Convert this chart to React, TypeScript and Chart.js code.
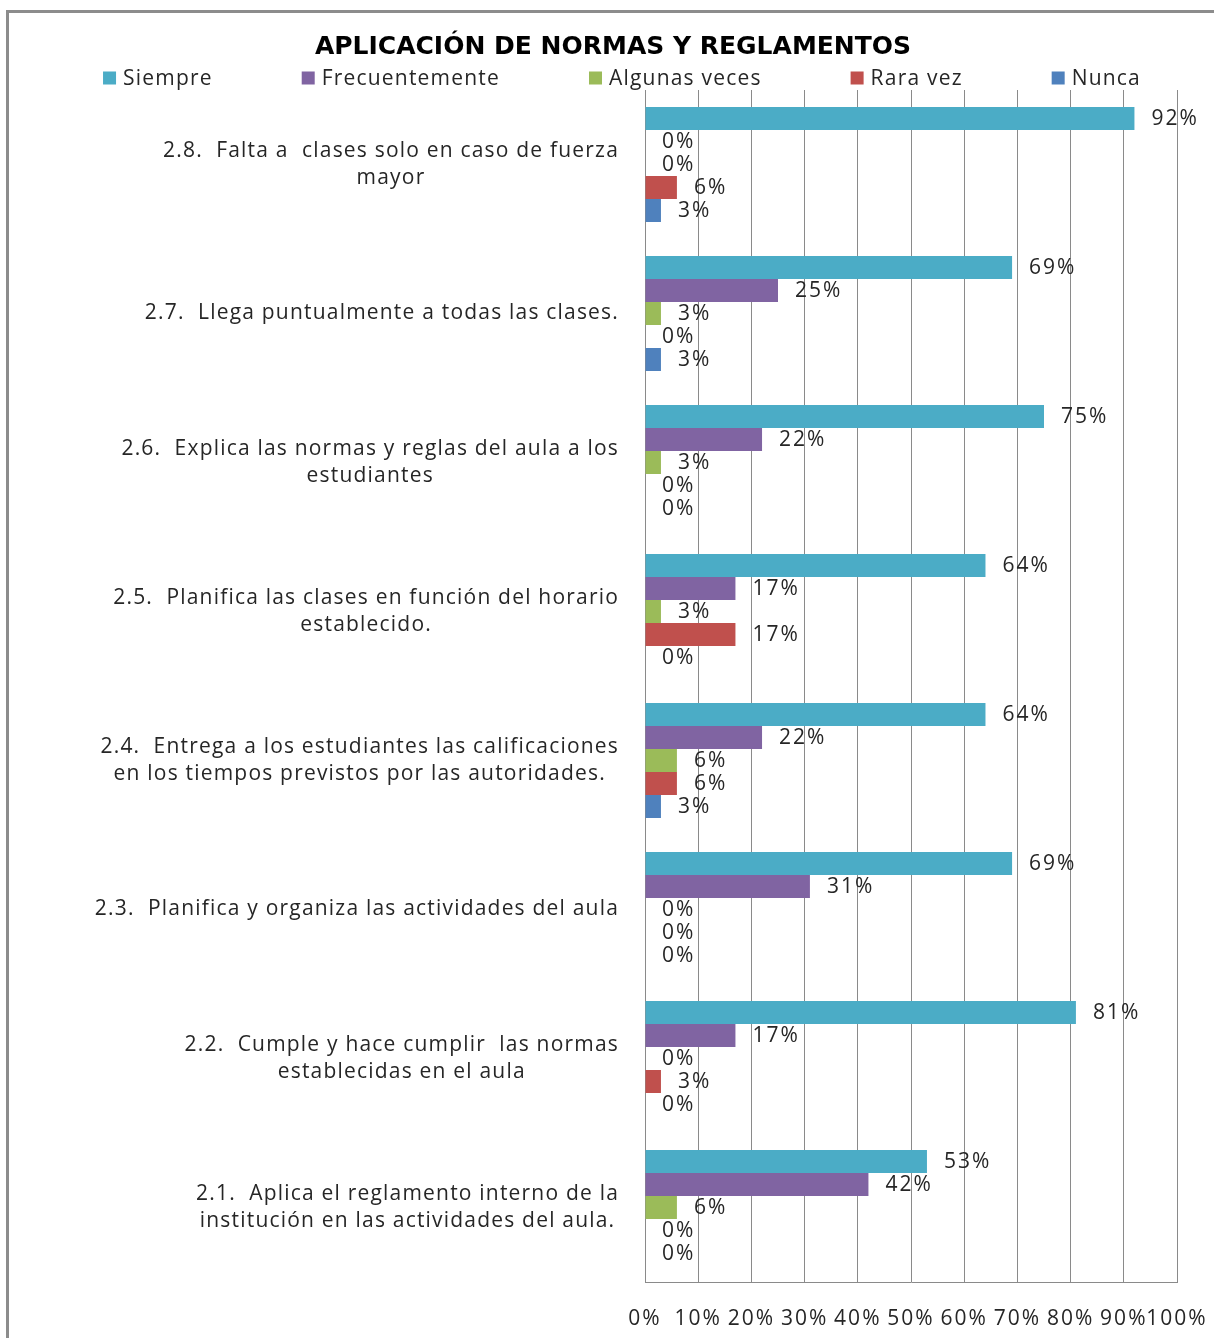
import React, { useEffect, useRef } from "react";
import { Chart, registerables } from "chart.js";

Chart.register(...registerables);

const categories: string[][] = [
  ["2.8.  Falta a  clases solo en caso de fuerza", "mayor"],
  ["2.7.  Llega puntualmente a todas las clases."],
  ["2.6.  Explica las normas y reglas del aula a los", "estudiantes"],
  ["2.5.  Planifica las clases en función del horario", "establecido."],
  ["2.4.  Entrega a los estudiantes las calificaciones", "en los tiempos previstos por las autoridades."],
  ["2.3.  Planifica y organiza las actividades del aula"],
  ["2.2.  Cumple y hace cumplir  las normas", "establecidas en el aula"],
  ["2.1.  Aplica el reglamento interno de la", "institución en las actividades del aula."],
];

const seriesNames = ["Siempre", "Frecuentemente", "Algunas veces", "Rara vez", "Nunca"];
const siempre = [92, 69, 75, 64, 64, 69, 81, 53];
const frecuentemente = [0, 25, 22, 17, 22, 31, 17, 42];
const algunasVeces = [0, 3, 3, 3, 6, 0, 0, 6];
const raraVez = [6, 0, 0, 17, 6, 0, 3, 0];
const nunca = [3, 3, 0, 0, 3, 0, 0, 0];
const xTickValues = [0, 10, 20, 30, 40, 50, 60, 70, 80, 90, 100];
const seriesColors = ["#4BACC6", "#8064A2", "#9BBB59", "#C0504D", "#4F81BD"];

const title = "APLICACIÓN DE NORMAS Y REGLAMENTOS";

const LABEL_FONT = '21px "Open Sans"';
const TEXT_COLOR = "#262626";
const GRID_COLOR = "#8a8a8a";

const spacingPlugin = {
  id: "letterSpacing",
  beforeLayout(chart: any) {
    chart.ctx.letterSpacing = "2px";
  },
  beforeDraw(chart: any) {
    chart.ctx.letterSpacing = "2px";
  },
};

const headerPlugin = {
  id: "header",
  afterDraw(chart: any) {
    const ctx = chart.ctx;
    ctx.save();
    ctx.letterSpacing = "0px";
    ctx.font = 'bold 25px "DejaVu Sans"';
    ctx.fillStyle = "#000";
    ctx.textAlign = "center";
    ctx.textBaseline = "middle";
    ctx.fillText(title, 613, 47);

    ctx.font = LABEL_FONT;
    ctx.letterSpacing = "1.2px";
    const box = 13;
    const boxGap = 7;
    const gap = 89;
    const items = chart.data.datasets.map((d: any) => ({
      label: d.label,
      color: d.backgroundColor,
      w: box + boxGap + ctx.measureText(d.label).width,
    }));
    const total = items.reduce((s: number, it: any) => s + it.w, 0) + gap * (items.length - 1);
    let x = 622 - total / 2;
    const y = 78;
    items.forEach((it: any) => {
      ctx.fillStyle = it.color;
      ctx.fillRect(x, y - box / 2, box, box);
      ctx.fillStyle = TEXT_COLOR;
      ctx.textAlign = "left";
      ctx.textBaseline = "middle";
      ctx.fillText(it.label, x + box + boxGap, y + 1);
      x += it.w + gap;
    });
    ctx.restore();
  },
};

const yLabelPlugin = {
  id: "yLabels",
  afterDraw(chart: any) {
    const ctx = chart.ctx;
    const yScale = chart.scales.y;
    const rightX = chart.chartArea.left - 26;
    const lh = 27;
    ctx.save();
    ctx.font = LABEL_FONT;
    ctx.letterSpacing = "1.2px";
    ctx.fillStyle = TEXT_COLOR;
    ctx.textAlign = "center";
    ctx.textBaseline = "middle";
    (chart.data.labels as string[][]).forEach((lines, i) => {
      const yc = yScale.getPixelForTick(i);
      const wMax = Math.max(...lines.map((l) => ctx.measureText(l).width));
      const cx = rightX - wMax / 2;
      const y0 = yc - ((lines.length - 1) * lh) / 2;
      lines.forEach((l, j) => ctx.fillText(l, cx, y0 + j * lh));
    });
    ctx.restore();
  },
};

const dataLabelPlugin = {
  id: "dataLabels",
  afterDatasetsDraw(chart: any) {
    const ctx = chart.ctx;
    ctx.save();
    ctx.font = '21px "Open Sans"';
    ctx.letterSpacing = "2px";
    ctx.fillStyle = TEXT_COLOR;
    ctx.textAlign = "left";
    ctx.textBaseline = "middle";
    chart.data.datasets.forEach((ds: any, di: number) => {
      const meta = chart.getDatasetMeta(di);
      meta.data.forEach((el: any, i: number) => {
        ctx.fillText(ds.data[i] + "%", el.x + 17, el.y + 1);
      });
    });
    ctx.restore();
  },
};

export default function App() {
  const canvasRef = useRef<HTMLCanvasElement>(null);

  useEffect(() => {
    const seriesData = [siempre, frecuentemente, algunasVeces, raraVez, nunca];
    const chart = new Chart(canvasRef.current as HTMLCanvasElement, {
      type: "bar",
      data: {
        labels: categories as any,
        datasets: seriesNames.map((name, i) => ({
          label: name,
          data: seriesData[i],
          backgroundColor: seriesColors[i],
          borderWidth: 0,
          categoryPercentage: 0.772,
          barPercentage: 1,
        })),
      },
      options: {
        indexAxis: "y",
        animation: false,
        responsive: true,
        maintainAspectRatio: false,
        layout: { padding: { left: 0, right: 37, top: 90, bottom: 7 } },
        plugins: {
          legend: { display: false },
          tooltip: { enabled: false },
          title: { display: false },
        },
        scales: {
          x: {
            min: 0,
            max: 100,
            afterBuildTicks: (scale: any) => {
              scale.ticks = xTickValues.map((v) => ({ value: v }));
            },
            ticks: {
              callback: (v: any) => v + "%",
              color: TEXT_COLOR,
              font: { family: "Open Sans", size: 21 },
              padding: 24,
              maxRotation: 0,
              autoSkip: false,
            },
            grid: { color: GRID_COLOR, drawTicks: false, lineWidth: 1 },
            border: { color: GRID_COLOR, width: 1 },
            afterFit: (scale: any) => {
              scale.height = 49;
              scale.paddingLeft = 0;
              scale.paddingRight = 0;
            },
          },
          y: {
            ticks: { display: false },
            grid: { display: false, drawTicks: false },
            border: { color: GRID_COLOR, width: 1 },
            afterFit: (scale: any) => {
              scale.width = 645;
            },
          },
        },
      },
      plugins: [spacingPlugin, headerPlugin, yLabelPlugin, dataLabelPlugin],
    });
    return () => chart.destroy();
  }, []);

  return (
    <div style={{ position: "absolute", left: 0, top: 0, width: 1214, height: 1338, overflow: "hidden", background: "#fff" }}>
      <div
        style={{
          position: "absolute",
          left: 6,
          top: 10,
          width: 1400,
          height: 1500,
          borderLeft: "3px solid #8c8c8c",
          borderTop: "3px solid #8c8c8c",
        }}
      />
      <div style={{ position: "absolute", left: 0, top: 0, width: 1214, height: 1338 }}>
        <canvas ref={canvasRef} />
      </div>
    </div>
  );
}
